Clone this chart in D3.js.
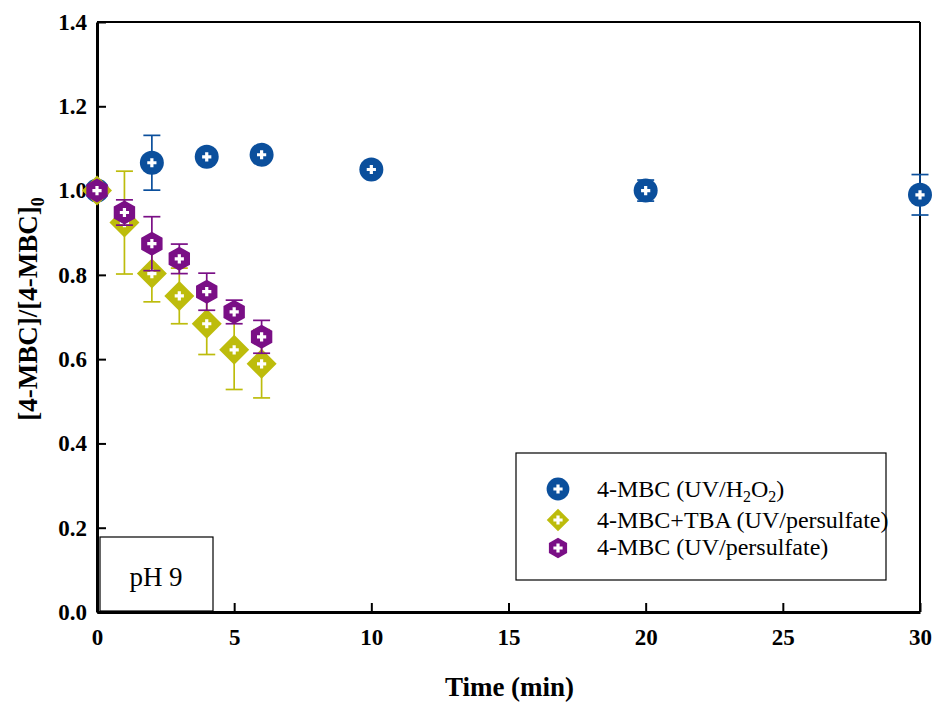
<!DOCTYPE html>
<html>
<head>
<meta charset="utf-8">
<script src="https://cdn.jsdelivr.net/npm/d3@7"></script>
<style>
  html, body { margin: 0; padding: 0; background: #fff; }
  svg { display: block; }
</style>
</head>
<body>
<svg id="chart" width="937" height="702"></svg>
<script>
// Normalised 4-MBC concentration vs. time at pH 9
const xTicks = [0, 5, 10, 15, 20, 25, 30];
const yTicks = [0.0, 0.2, 0.4, 0.6, 0.8, 1.0, 1.2, 1.4];

const timeH2O2 = [0, 2, 4, 6, 10, 20, 30];
const valH2O2  = [1.0, 1.066, 1.08, 1.085, 1.05, 1.0, 0.99];
const errH2O2  = [0.0, 0.065, 0.005, 0.012, 0.008, 0.025, 0.048];

const timeTBA = [0, 1, 2, 3, 4, 5, 6];
const valTBA  = [1.0, 0.924, 0.803, 0.75, 0.684, 0.622, 0.589];
const errTBA  = [0.0, 0.122, 0.067, 0.066, 0.073, 0.094, 0.081];

const timePS = [0, 1, 2, 3, 4, 5, 6];
const valPS  = [1.0, 0.948, 0.874, 0.838, 0.76, 0.712, 0.653];
const errPS  = [0.0, 0.03, 0.064, 0.035, 0.044, 0.028, 0.039];

const seriesNames = ["4-MBC (UV/H\u2082O\u2082)", "4-MBC+TBA (UV/persulfate)", "4-MBC (UV/persulfate)"];
const seriesColors = ["#0b4f9c", "#bdbc0c", "#7a0f86"];
const seriesShapes = ["circle", "diamond", "hexagon"];

const series = [
  { t: timeH2O2, v: valH2O2, e: errH2O2 },
  { t: timeTBA,  v: valTBA,  e: errTBA },
  { t: timePS,   v: valPS,   e: errPS }
].map((s, i) => ({
  name: seriesNames[i], color: seriesColors[i], shape: seriesShapes[i],
  points: s.t.map((t, j) => ({ t, v: s.v[j], e: s.e[j] }))
}));

const svg = d3.select("#chart");
const plotL = 97, plotR = 920, plotT = 22, plotB = 612;
const serif = "'Liberation Serif', 'Times New Roman', serif";

const x = d3.scaleLinear().domain([0, 30]).range([plotL, plotR]);
const y = d3.scaleLinear().domain([0, 1.4]).range([plotB, plotT]);

// frame (top and right edges)
svg.append("line").attr("x1", plotL).attr("x2", plotR).attr("y1", plotT).attr("y2", plotT)
  .attr("stroke", "#000").attr("stroke-width", 2);
svg.append("line").attr("x1", plotR).attr("x2", plotR).attr("y1", plotT).attr("y2", plotB)
  .attr("stroke", "#000").attr("stroke-width", 2);

// bottom axis, ticks pointing inward
const xAxis = svg.append("g").attr("transform", `translate(0,${plotB})`)
  .call(d3.axisBottom(x).tickValues(xTicks).tickSizeInner(-9).tickSizeOuter(0).tickPadding(17)
    .tickFormat(d3.format("d")));
xAxis.select(".domain").attr("stroke-width", 3);
xAxis.selectAll(".tick line").attr("stroke-width", 2);
xAxis.selectAll(".tick text").attr("font-family", serif).attr("font-weight", "bold")
  .attr("font-size", 23).attr("fill", "#000");

// left axis, ticks pointing inward
const yAxis = svg.append("g").attr("transform", `translate(${plotL},0)`)
  .call(d3.axisLeft(y).tickValues(yTicks).tickSizeInner(-9).tickSizeOuter(0).tickPadding(10)
    .tickFormat(d3.format(".1f")));
yAxis.select(".domain").attr("stroke-width", 3);
yAxis.selectAll(".tick line").attr("stroke-width", 2);
yAxis.selectAll(".tick text").attr("font-family", serif).attr("font-weight", "bold")
  .attr("font-size", 23).attr("fill", "#000");

// axis titles
svg.append("text").attr("x", (plotL + plotR) / 2 + 1).attr("y", 696).attr("text-anchor", "middle")
  .attr("font-family", serif).attr("font-weight", "bold").attr("font-size", 27)
  .text("Time (min)");

const yl = svg.append("text").attr("transform", "translate(37,309) rotate(-90)")
  .attr("text-anchor", "middle").attr("font-family", serif).attr("font-weight", "bold")
  .attr("font-size", 27);
yl.append("tspan").text("[4-MBC]/[4-MBC]");
yl.append("tspan").attr("font-size", 18).attr("dy", 7).text("0");

// pH label box
svg.append("rect").attr("x", 100).attr("y", 537).attr("width", 113).attr("height", 74)
  .attr("fill", "#fff").attr("stroke", "#000").attr("stroke-width", 1.2);
svg.append("text").attr("x", 156).attr("y", 586).attr("text-anchor", "middle")
  .attr("font-family", serif).attr("font-size", 27).text("pH 9");

// marker shapes
function shapePath(shape) {
  if (shape === "circle") {
    const r = 12;
    return `M${r},0A${r},${r},0,1,1,${-r},0A${r},${r},0,1,1,${r},0Z`;
  }
  if (shape === "diamond") {
    const r = 15;
    return `M0,${-r}L${r},0L0,${r}L${-r},0Z`;
  }
  const r = 12;
  const pts = d3.range(6).map(k => {
    const a = Math.PI / 3 * k - Math.PI / 2;
    return [r * Math.cos(a) * 1.03, r * Math.sin(a)];
  });
  return "M" + pts.map(p => p.join(",")).join("L") + "Z";
}
const plusPath = "M-1.6,-4.6H1.6V-1.6H4.6V1.6H1.6V4.6H-1.6V1.6H-4.6V-1.6H-1.6Z";

function drawMarker(g, s, legend) {
  const k = legend ? { circle: 0.95, diamond: 0.75, hexagon: 0.85 }[s.shape] : 1;
  g.append("path").attr("d", shapePath(s.shape)).attr("fill", s.color)
    .attr("transform", `scale(${k})`);
  g.append("path").attr("d", plusPath).attr("fill", "#fff");
}

// series: error bars then markers
series.forEach(s => {
  const g = svg.append("g");
  const eb = g.selectAll(".eb").data(s.points.filter(p => p.e > 0)).join("g")
    .attr("stroke", s.color).attr("stroke-width", 1.7);
  eb.append("line").attr("x1", d => x(d.t)).attr("x2", d => x(d.t))
    .attr("y1", d => y(d.v + d.e)).attr("y2", d => y(d.v - d.e));
  [1, -1].forEach(sgn => {
    eb.append("line").attr("x1", d => x(d.t) - 8.5).attr("x2", d => x(d.t) + 8.5)
      .attr("y1", d => y(d.v + sgn * d.e)).attr("y2", d => y(d.v + sgn * d.e));
  });
  g.selectAll(".mk").data(s.points).join("g")
    .attr("transform", d => `translate(${x(d.t)},${y(d.v)})`)
    .each(function () { drawMarker(d3.select(this), s, false); });
});

// legend
svg.append("rect").attr("x", 516).attr("y", 453).attr("width", 370).attr("height", 127)
  .attr("fill", "#fff").attr("stroke", "#000").attr("stroke-width", 1.2);
const legendY = [489, 520, 548];
const legendBase = [497, 528, 555];
series.forEach((s, i) => {
  const g = svg.append("g").attr("transform", `translate(558,${legendY[i]})`);
  drawMarker(g, s, true);
  const t = svg.append("text").attr("x", 597).attr("y", legendBase[i])
    .attr("font-family", serif).attr("font-size", 24).attr("fill", "#000");
  if (i === 0) {
    t.append("tspan").text("4-MBC (UV/H");
    t.append("tspan").attr("font-size", 16).attr("dy", 5).text("2");
    t.append("tspan").attr("dy", -5).text("O");
    t.append("tspan").attr("font-size", 16).attr("dy", 5).text("2");
    t.append("tspan").attr("dy", -5).text(")");
  } else {
    t.text(s.name);
  }
});
</script>
</body>
</html>
